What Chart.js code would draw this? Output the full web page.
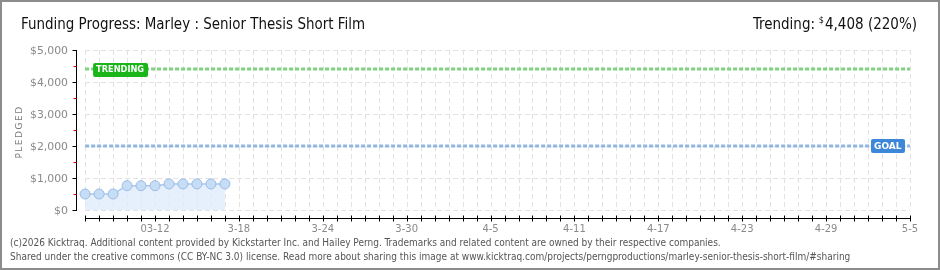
<!DOCTYPE html>
<html>
<head>
<meta charset="utf-8">
<script src="https://cdn.jsdelivr.net/npm/chart.js@4.4.1/dist/chart.umd.min.js"></script>
<style>
  html, body { margin: 0; padding: 0; background: #fff; }
  #wrap { width: 940px; height: 270px; }
</style>
</head>
<body>
<div id="wrap"><canvas id="myChart" width="940" height="270"></canvas></div>
<script>
// chart data
const dayCount = 60; // 03-07 .. 05-05
const pledgedDays = [0, 1, 2, 3, 4, 5, 6, 7, 8, 9, 10];
const pledgedValues = [500, 500, 500, 760, 760, 760, 815, 815, 815, 815, 815];
const trendingValue = 4408;
const goalValue = 2000;
const yTicks = [0, 1000, 2000, 3000, 4000, 5000];
const yTickLabels = ['$0', '$1,000', '$2,000', '$3,000', '$4,000', '$5,000'];
const xTickDays = [5, 11, 17, 23, 29, 35, 41, 47, 53, 59];
const xTickLabels = ['03-12', '3-18', '3-24', '3-30', '4-5', '4-11', '4-17', '4-23', '4-29', '5-5'];

const titleText = 'Funding Progress: Marley : Senior Thesis Short Film';
const trendText = '4,408 (220%)';
const footer1 = '(c)2026 Kicktraq. Additional content provided by Kickstarter Inc. and Hailey Perng. Trademarks and related content are owned by their respective companies.';
const footer2 = 'Shared under the creative commons (CC BY-NC 3.0) license. Read more about sharing this image at www.kicktraq.com/projects/perngproductions/marley-senior-thesis-short-film/#sharing';

const lastDay = dayCount - 1;

function roundBox(ctx, x, y, w, h, r, color) {
    ctx.fillStyle = color;
    ctx.beginPath();
    ctx.roundRect(x, y, w, h, r);
    ctx.fill();
}

// draws grid, axes, tick labels, flag labels and the page texts
const decor = {
    id: 'decor',
    beforeDraw(chart) {
        const ctx = chart.ctx;
        const xs = chart.scales.x;
        const ys = chart.scales.y;
        const area = chart.chartArea;
        ctx.save();
        ctx.fillStyle = '#fff';
        ctx.fillRect(0, 0, chart.width, chart.height);
        ctx.strokeStyle = '#8c8c8c';
        ctx.lineWidth = 2;
        ctx.strokeRect(1, 1, chart.width - 2, chart.height - 2);

        // dashed grid
        ctx.strokeStyle = '#e2e2e2';
        ctx.lineWidth = 1;
        ctx.setLineDash([5, 3]);
        for (let d = 0; d < dayCount; d++) {
            const x = Math.round(xs.getPixelForValue(d)) + 0.5;
            ctx.beginPath();
            ctx.moveTo(x, area.top);
            ctx.lineTo(x, area.bottom);
            ctx.stroke();
        }
        for (const v of yTicks) {
            const y = Math.round(ys.getPixelForValue(v)) + 0.5;
            ctx.beginPath();
            ctx.moveTo(xs.getPixelForValue(0), y);
            ctx.lineTo(xs.getPixelForValue(lastDay), y);
            ctx.stroke();
        }
        ctx.setLineDash([]);

        // y axis
        const ax = area.left + 0.5;
        ctx.strokeStyle = '#000';
        ctx.beginPath();
        ctx.moveTo(ax, area.top);
        ctx.lineTo(ax, area.bottom + 1);
        ctx.stroke();
        for (let i = 0; i < yTicks.length; i++) {
            const y = Math.round(ys.getPixelForValue(yTicks[i])) + 0.5;
            ctx.strokeStyle = '#000';
            ctx.beginPath();
            ctx.moveTo(ax - 4, y);
            ctx.lineTo(ax, y);
            ctx.stroke();
            if (i < yTicks.length - 1) {
                const ym = Math.round(ys.getPixelForValue((yTicks[i] + yTicks[i + 1]) / 2)) + 0.5;
                ctx.strokeStyle = '#e00000';
                ctx.beginPath();
                ctx.moveTo(ax - 3, ym);
                ctx.lineTo(ax, ym);
                ctx.stroke();
            }
        }

        // x axis, sits below the plot
        const ay = area.bottom + 8.5;
        ctx.strokeStyle = '#000';
        ctx.beginPath();
        ctx.moveTo(xs.getPixelForValue(0), ay);
        ctx.lineTo(xs.getPixelForValue(lastDay) + 1, ay);
        ctx.stroke();
        for (let d = 0; d < dayCount; d++) {
            const x = Math.round(xs.getPixelForValue(d)) + 0.5;
            ctx.beginPath();
            ctx.moveTo(x, ay - 3);
            ctx.lineTo(x, ay + 3);
            ctx.stroke();
        }
        ctx.restore();
    },
    afterDatasetsDraw(chart) {
        const ctx = chart.ctx;
        const xs = chart.scales.x;
        const ys = chart.scales.y;
        const area = chart.chartArea;
        ctx.save();

        // tick labels
        ctx.fillStyle = '#8a8a8a';
        ctx.font = '11px "DejaVu Sans"';
        ctx.textAlign = 'right';
        ctx.textBaseline = 'middle';
        for (let i = 0; i < yTicks.length; i++) {
            ctx.fillText(yTickLabels[i], area.left - 8, ys.getPixelForValue(yTicks[i]) + 1, 38);
        }
        ctx.font = '10px "DejaVu Sans"';
        ctx.textAlign = 'center';
        for (let i = 0; i < xTickDays.length; i++) {
            ctx.fillText(xTickLabels[i], xs.getPixelForValue(xTickDays[i]), area.bottom + 19);
        }

        // y title
        ctx.save();
        ctx.translate(20, (area.top + area.bottom) / 2 + 2);
        ctx.rotate(-Math.PI / 2);
        ctx.font = '9px "DejaVu Sans"';
        ctx.letterSpacing = '1.5px';
        ctx.fillStyle = '#7a7a7a';
        ctx.fillText('PLEDGED', 0, 0);
        ctx.restore();

        // flag labels
        const ty = ys.getPixelForValue(trendingValue);
        const tx = xs.getPixelForValue(0) + 8;
        roundBox(ctx, tx, ty - 6, 55, 14, 2, '#19b519');
        ctx.fillStyle = '#fff';
        ctx.font = 'bold 9px "DejaVu Sans"';
        ctx.textAlign = 'left';
        ctx.fillText('TRENDING', tx + 3, ty + 1, 48);

        const gy = ys.getPixelForValue(goalValue);
        const gx = xs.getPixelForValue(lastDay) - 39;
        roundBox(ctx, gx, gy - 7, 34, 14, 2, '#3d87d8');
        ctx.fillStyle = '#fff';
        ctx.fillText('GOAL', gx + 3, gy + 0.5, 28);

        // heading
        ctx.fillStyle = '#111';
        ctx.textBaseline = 'alphabetic';
        ctx.font = '15px "DejaVu Sans Condensed"';
        ctx.textAlign = 'left';
        ctx.fillText(titleText, 21, 29, 344);

        ctx.textAlign = 'right';
        const rightEdge = 917;
        ctx.fillText(trendText, rightEdge, 29, 92);
        const tw = Math.min(ctx.measureText(trendText).width, 92);
        ctx.font = '9px "DejaVu Sans Condensed"';
        ctx.fillText('$', rightEdge - tw - 1, 23);
        ctx.font = '15px "DejaVu Sans Condensed"';
        ctx.fillText('Trending:', rightEdge - tw - 10, 29, 62);

        // footer
        ctx.fillStyle = '#555';
        ctx.font = '10px "DejaVu Sans Condensed"';
        ctx.textAlign = 'left';
        ctx.fillText(footer1, 10, 246, 728);
        ctx.fillText(footer2, 10, 260, 872);
        ctx.restore();
    }
};

const pledgedPoints = pledgedDays.map((d, i) => ({ x: d, y: pledgedValues[i] }));

const ctx = document.getElementById('myChart').getContext('2d');
const myChart = new Chart(ctx, {
    type: 'line',
    data: {
        datasets: [
            {
                label: 'Trending',
                data: [{ x: 0, y: trendingValue }, { x: lastDay, y: trendingValue }],
                borderColor: '#7fd27f',
                borderWidth: 3,
                borderDash: [4, 2],
                pointRadius: 0,
                fill: false
            },
            {
                label: 'Goal',
                data: [{ x: 0, y: goalValue }, { x: lastDay, y: goalValue }],
                borderColor: '#92b6e2',
                borderWidth: 3,
                borderDash: [4, 2],
                pointRadius: 0,
                fill: false
            },
            {
                label: 'Pledged',
                data: pledgedPoints,
                borderColor: '#a9c8ee',
                borderWidth: 1.5,
                backgroundColor: 'rgba(222, 235, 251, 0.75)',
                fill: 'origin',
                pointRadius: 5,
                pointBackgroundColor: '#c6ddf6',
                pointBorderColor: '#9dbce4',
                pointBorderWidth: 1,
                tension: 0
            }
        ]
    },
    options: {
        responsive: false,
        animation: false,
        layout: { padding: { left: 76, right: 30, top: 50, bottom: 60 } },
        scales: {
            x: { type: 'linear', min: -0.65, max: lastDay, display: false },
            y: { type: 'linear', min: 0, max: 5000, display: false }
        },
        plugins: {
            legend: { display: false },
            tooltip: { enabled: false },
            title: { display: false }
        }
    },
    plugins: [decor]
});
</script>
</body>
</html>
